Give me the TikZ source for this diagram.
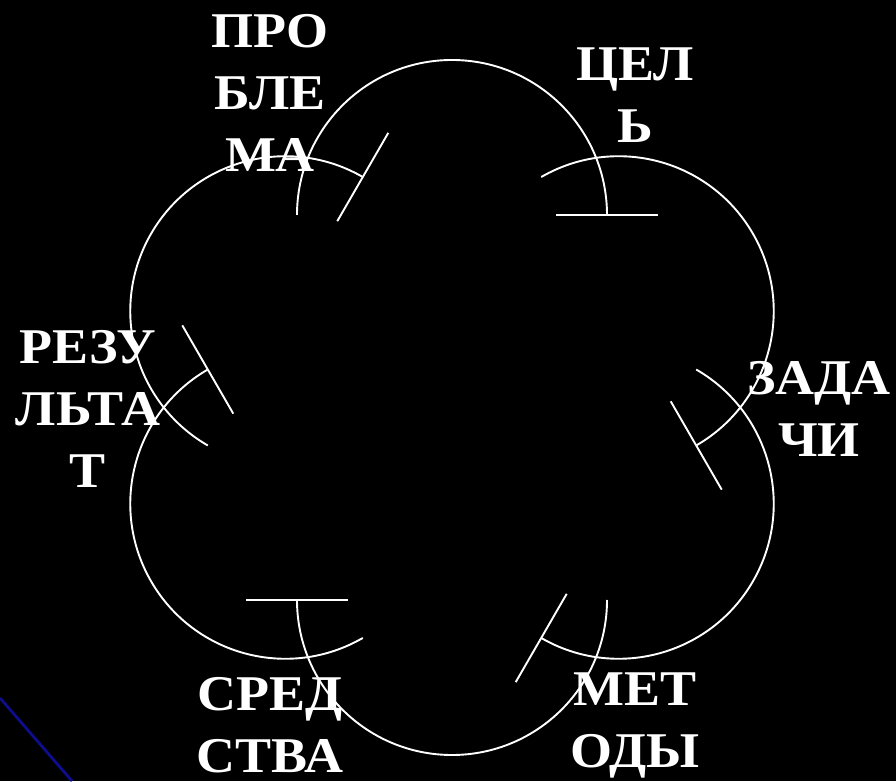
\documentclass[tikz,border=0pt]{standalone}
\usepackage{fontspec}
\setmainfont{Liberation Serif}
\newfontfamily\lblfont[FakeStretch=1.08]{Liberation Serif}
\usetikzlibrary{calc}
\definecolor{edgeblue}{RGB}{14,14,140}
\tikzset{
  lbl/.style={text=white, font=\lblfont\fontsize{50}{62}\selectfont\bfseries, align=center, inner sep=0pt},
  cyc/.style={draw=white, line width=1.9pt},
}
\begin{document}
\begin{tikzpicture}
\fill[black] (0pt,0pt) rectangle (896pt,781pt);
\useasboundingbox (0pt,0pt) rectangle (896pt,781pt);
\coordinate (M) at (452pt,373.5pt);
% labels
\node[lbl] (problema) at (270pt,688pt) {ПРО\\БЛЕ\\МА};
\node[lbl] (cel) at (635pt,686pt) {ЦЕЛ\\Ь};
\node[lbl] (zadachi) at (819pt,372.5pt) {ЗАДА\\ЧИ};
\node[lbl] (metody) at (635pt,55.5pt) {МЕТ\\ОДЫ};
\node[lbl] (sredstva) at (270pt,55.5pt) {СРЕД\\СТВА};
\node[lbl] (rezultat) at (88pt,372.5pt) {РЕЗУ\\ЛЬТА\\Т};
% cycle arcs
\foreach \k in {0,...,5}{
  \coordinate (c\k) at ($(M)+({90-60*\k}:192.5pt)$);
  \draw[cyc] ($(c\k)+({180-60*\k}:155pt)$) arc[start angle={180-60*\k}, end angle={-60*\k}, radius=155pt];
  \draw[cyc] ($(c\k)+({-60*\k}:104pt)$) -- ($(c\k)+({-60*\k}:206pt)$);
}
% slide edge
\coordinate (e1) at (0pt,83pt);
\coordinate (e2) at (72pt,0pt);
\draw[edgeblue, line width=2.8pt] (e1) -- (e2);
\end{tikzpicture}
\end{document}
